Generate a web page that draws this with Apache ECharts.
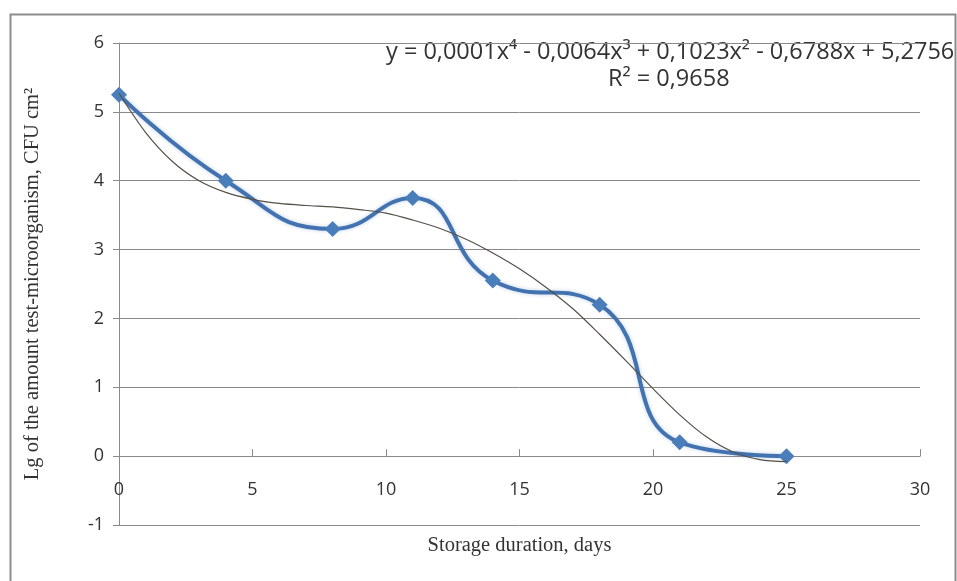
<!DOCTYPE html>
<html>
<head>
<meta charset="utf-8">
<script src="https://cdn.jsdelivr.net/npm/echarts@6/dist/echarts.min.js"></script>
<style>
  html, body { margin: 0; padding: 0; background: #fff; }
  #chart { width: 957px; height: 581px; }
</style>
</head>
<body>
<div id="chart"></div>
<script>
// measured points
const days = [0, 4, 8, 11, 14, 18, 21, 25];
const lgCount = [5.25, 4.0, 3.3, 3.75, 2.55, 2.2, 0.2, 0.0];

// polynomial trendline
const trendDays = [0, 1, 2, 3, 4, 5, 6, 7, 8, 9, 10, 11, 12, 13, 14, 15, 16, 17, 18, 19, 20, 21, 22, 23, 24, 25];
const trendValues = [5.27, 4.7, 4.28, 4.0, 3.83, 3.73, 3.67, 3.64, 3.62, 3.58, 3.53, 3.43, 3.31, 3.15, 2.95, 2.72, 2.45, 2.14, 1.77, 1.38, 0.98, 0.6, 0.28, 0.06, -0.05, -0.08];

const equationText = 'y = 0,0001x⁴ - 0,0064x³ + 0,1023x² - 0,6788x + 5,2756';
const r2Text = 'R² = 0,9658';
const xTitle = 'Storage duration, days';
const yTitle = 'Lg of the amount test-microorganism, CFU cm²';

const chart = echarts.init(document.getElementById('chart'));

const axisColor = '#8a8a8a';
const labelFont = { color: '#333', fontSize: 18, fontFamily: 'Open Sans' };
const titleFont = { color: '#333', fontSize: 20.5, fontFamily: 'Liberation Serif' };

// the x axis crosses the y axis at 0, one unit (482/7 px) above the bottom
const xAxisLift = -(525 - 43) / 7;

chart.setOption({
  animation: false,
  grid: { left: 119, right: 37, top: 43, bottom: 56, outerBoundsMode: 'none', containLabel: false },
  xAxis: {
    type: 'value',
    min: 0,
    max: 30,
    interval: 5,
    offset: xAxisLift,
    name: xTitle,
    nameLocation: 'middle',
    nameGap: 79,
    nameTextStyle: titleFont,
    axisLine: { onZero: false, lineStyle: { color: axisColor, width: 1 } },
    axisTick: { inside: true, length: 7, lineStyle: { color: axisColor } },
    axisLabel: Object.assign({ margin: 25 }, labelFont),
    splitLine: { show: false },
  },
  yAxis: {
    type: 'value',
    min: -1,
    max: 6,
    interval: 1,
    name: yTitle,
    nameLocation: 'middle',
    nameRotate: 90,
    nameGap: 76,
    nameTextStyle: titleFont,
    axisLine: { show: true, lineStyle: { color: axisColor, width: 1 } },
    axisTick: { show: true, inside: false, length: 6, lineStyle: { color: axisColor } },
    axisLabel: Object.assign({ margin: 15 }, labelFont),
    splitLine: { lineStyle: { color: axisColor, width: 1 } },
  },
  graphic: [
    {
      type: 'rect',
      left: 8,
      top: 12,
      shape: { width: 945, height: 580 },
      style: { fill: 'none', stroke: '#8c8c8c', lineWidth: 2 },
      silent: true,
    },
    {
      type: 'text',
      left: 386,
      top: 40,
      style: { text: equationText, fill: '#333', fontSize: 23.5, fontFamily: 'Open Sans' },
    },
    {
      type: 'text',
      left: 608,
      top: 67,
      style: { text: r2Text, fill: '#333', fontSize: 23.5, fontFamily: 'Open Sans' },
    },
  ],
  series: [
    {
      name: 'trend',
      type: 'line',
      data: trendDays.map((d, i) => [d, trendValues[i]]),
      smooth: 0.3,
      showSymbol: false,
      z: 3,
      lineStyle: { color: '#555048', width: 1.2 },
    },
    {
      name: 'Lg',
      type: 'line',
      data: days.map((d, i) => [d, lgCount[i]]),
      smooth: 0.5,
      symbol: 'diamond',
      symbolSize: 16,
      z: 2,
      itemStyle: { color: '#4a7ebb' },
      lineStyle: {
        color: '#4272b0',
        width: 4,
        shadowColor: 'rgba(74,126,187,0.35)',
        shadowBlur: 4,
      },
    },
  ],
});
</script>
</body>
</html>
